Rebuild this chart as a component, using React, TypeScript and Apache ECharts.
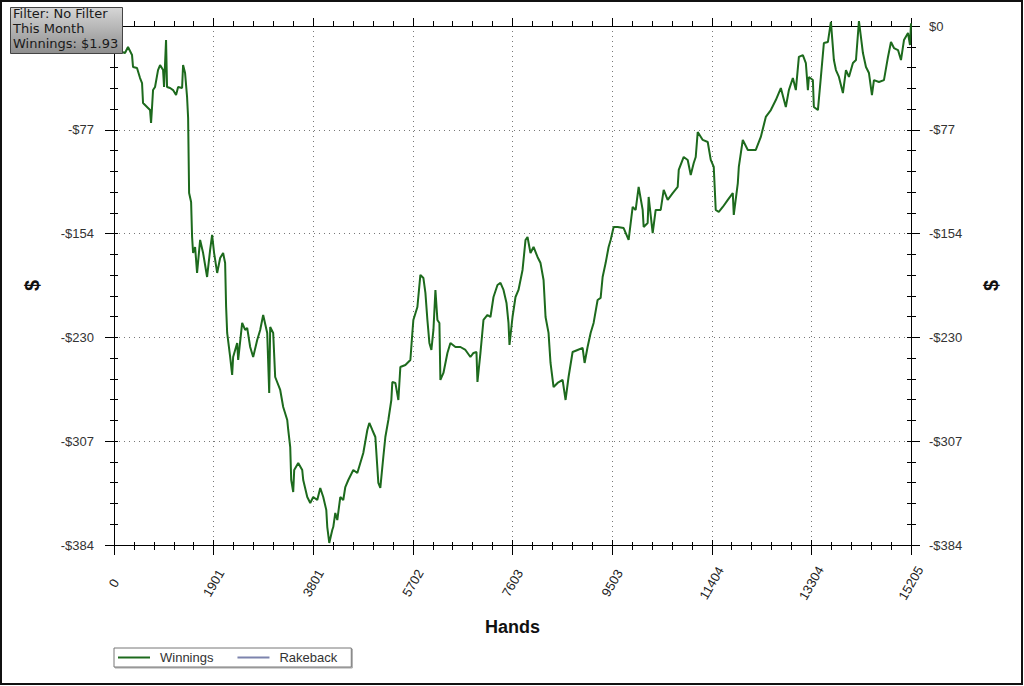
import React, { useEffect, useRef } from "react";
import * as echarts from "echarts";

const hands: number[] = [
  0, 76, 153, 210, 267, 344, 363, 439, 497, 535, 554, 630, 688, 707, 726, 745, 783, 840, 879, 936,
  955, 993, 1012, 1070, 1127, 1184, 1223, 1299, 1318, 1356, 1394, 1414, 1433, 1471, 1490, 1509, 1547, 1585, 1643, 1700,
  1776, 1834, 1872, 1910, 1968, 2025, 2082, 2120, 2139, 2159, 2216, 2254, 2273, 2350, 2369, 2445, 2502, 2541, 2598, 2655,
  2732, 2789, 2846, 2923, 2961, 2980, 3037, 3075, 3171, 3228, 3305, 3324, 3362, 3381, 3419, 3438, 3515, 3591, 3610, 3687,
  3744, 3801, 3878, 3935, 3992, 4050, 4069, 4107, 4164, 4183, 4222, 4260, 4317, 4374, 4413, 4470, 4565, 4642, 4699, 4756,
  4833, 4871, 4928, 4986, 5043, 5081, 5138, 5177, 5234, 5291, 5310, 5368, 5425, 5463, 5559, 5654, 5692, 5711, 5788, 5845,
  5903, 5941, 5979, 6017, 6055, 6094, 6132, 6170, 6208, 6227, 6285, 6361, 6418, 6514, 6609, 6705, 6800, 6858, 6915, 6934,
  6991, 7049, 7125, 7182, 7240, 7316, 7373, 7431, 7488, 7526, 7545, 7603, 7660, 7717, 7794, 7851, 7889, 7946, 8004, 8080,
  8137, 8195, 8233, 8290, 8328, 8386, 8462, 8558, 8615, 8672, 8749, 8844, 8940, 8978, 9035, 9093, 9150, 9226, 9284, 9322,
  9379, 9436, 9475, 9532, 9608, 9723, 9818, 9895, 9952, 10009, 10086, 10105, 10181, 10200, 10277, 10334, 10430, 10487, 10563, 10659,
  10754, 10774, 10869, 10945, 11003, 11060, 11098, 11136, 11232, 11327, 11385, 11442, 11480, 11538, 11614, 11710, 11805, 11824, 11901, 11920,
  11996, 12092, 12244, 12340, 12435, 12531, 12626, 12722, 12817, 12875, 12951, 13008, 13066, 13142, 13199, 13238, 13257, 13333, 13352, 13429,
  13486, 13543, 13620, 13677, 13734, 13773, 13830, 13906, 13964, 14021, 14097, 14155, 14212, 14288, 14346, 14403, 14460, 14498, 14594, 14689,
  14766, 14823, 14880, 14957, 15014, 15071, 15148, 15186, 15205,
];

const winnings: number[] = [
  0, -16.3, -19.2, -20.0, -15.5, -21.5, -30.3, -31.1, -38.5, -42.2, -57.0, -59.9, -62.2, -71.8, -59.9, -47.4, -45.1, -32.6, -28.9, -32.6,
  -45.1, -10.4, -45.1, -45.9, -47.4, -51.1, -45.1, -45.9, -28.9, -34.8, -52.5, -68.1, -123.6, -130.2, -156.1, -168.0, -163.5, -182.7, -158.3, -168.0,
  -185.7, -165.7, -154.6, -168.0, -182.7, -171.7, -168.0, -175.4, -207.9, -227.1, -244.9, -258.2, -244.9, -234.5, -247.1, -219.7, -224.9, -223.4, -237.5, -244.9,
  -232.3, -224.9, -213.8, -227.1, -271.5, -222.7, -227.1, -259.7, -269.3, -281.9, -291.5, -298.9, -311.5, -335.9, -344.8, -328.5, -323.3, -328.5, -335.9, -348.5,
  -352.9, -348.5, -350.7, -341.8, -348.5, -358.1, -370.7, -382.5, -372.9, -370.7, -360.3, -365.5, -348.5, -350.7, -341.1, -335.9, -328.5, -330.7, -323.3, -315.9,
  -298.9, -293.7, -298.9, -304.1, -338.1, -341.8, -318.9, -304.1, -291.5, -276.7, -263.4, -264.1, -276.7, -252.3, -250.8, -247.1, -227.1, -217.5, -207.9, -184.2,
  -186.5, -197.5, -217.5, -234.5, -239.7, -224.9, -195.3, -217.5, -219.7, -261.9, -256.7, -241.9, -234.5, -237.5, -237.5, -239.7, -244.9, -241.9, -241.2, -263.4,
  -241.9, -217.5, -213.8, -215.3, -200.5, -191.6, -190.1, -195.3, -204.9, -219.7, -236.0, -215.3, -200.5, -195.3, -180.5, -158.3, -156.1, -168.0, -163.5, -170.9,
  -175.4, -187.9, -215.3, -227.1, -249.3, -267.1, -264.1, -261.9, -276.7, -259.7, -241.2, -239.7, -238.2, -249.3, -237.5, -227.1, -219.7, -202.7, -201.2, -185.7,
  -175.4, -163.5, -158.3, -148.7, -148.7, -149.5, -158.3, -133.9, -136.1, -119.1, -136.1, -148.7, -145.8, -126.5, -153.2, -136.1, -136.1, -121.3, -128.7, -123.6,
  -119.1, -106.5, -96.9, -99.1, -110.2, -101.4, -96.9, -78.4, -84.3, -85.8, -99.1, -104.3, -136.1, -137.6, -133.9, -128.7, -123.6, -139.8, -116.2, -104.3,
  -84.3, -91.7, -91.7, -82.1, -67.3, -62.2, -54.8, -45.9, -59.9, -47.4, -38.5, -47.4, -22.9, -21.5, -27.4, -47.4, -37.7, -40.0, -59.9, -62.2,
  -37.7, -12.6, -11.8, 3.0, -25.2, -32.6, -37.7, -49.6, -32.6, -37.7, -27.4, -25.2, 3.7, -20.0, -30.3, -34.8, -51.1, -40.0, -41.4, -40.0,
  -22.9, -11.8, -16.3, -17.8, -25.2, -10.4, -5.2, -14.1, 1.93,
];

const rakeback: number[][] = [];

const seriesNames = ["Winnings", "Rakeback"];
const filterLines = ["Filter: No Filter", "This Month", "Winnings: $1.93"];

const HAND_MAX = 15205;
const Y_MIN = -384;

const fmtMoney = (v: number) => {
  const r = Math.round(v);
  return r === 0 ? "$0" : r < 0 ? "-$" + -r : "$" + r;
};
// left-hand $0 label sits under the filter box in the reference
const fmtMoneyLeft = (v: number) => (Math.round(v) === 0 ? "" : fmtMoney(v));

const FONT = "'Liberation Sans', Arial, sans-serif";

export default function App() {
  const ref = useRef<HTMLDivElement>(null);
  useEffect(() => {
    if (!ref.current) return;
    const chart = echarts.init(ref.current, null, { renderer: "svg" });
    const data = hands.map((h, i) => [h, winnings[i]]);
    const lineBlack = { color: "#000", width: 1 };
    const gridRect = { left: 114, right: 113, top: 26, bottom: 141 };

    const innerY = (position: string) => ({
      type: "value",
      gridIndex: 1,
      position,
      min: Y_MIN,
      max: 0,
      interval: 76.8,
      axisLine: { show: false, onZero: false },
      axisTick: { show: true, inside: true, length: 4, lineStyle: lineBlack },
      minorTick: { show: true, splitNumber: 5, length: 4, lineStyle: lineBlack },
      axisLabel: { show: false },
      splitLine: { show: false },
    });

    const option: any = {
      animation: false,
      backgroundColor: "#fff",
      grid: [
        { ...gridRect, containLabel: false },
        { ...gridRect, containLabel: false },
      ],
      xAxis: [
        {
          type: "value",
          gridIndex: 0,
          position: "bottom",
          min: 0,
          max: HAND_MAX,
          interval: HAND_MAX / 8,
          axisLine: { show: true, onZero: false, lineStyle: lineBlack },
          axisTick: { show: true, length: 10, lineStyle: lineBlack },
          minorTick: { show: true, splitNumber: 5, length: 5, lineStyle: lineBlack },
          axisLabel: {
            rotate: 60,
            align: "center",
            verticalAlign: "middle",
            margin: 38,
            fontSize: 13,
            fontFamily: FONT,
            color: "#222",
            formatter: (v: number) => String(Math.round(v)),
          },
          splitLine: { show: true, lineStyle: { color: "#777", type: [1, 4], width: 1 } },
          name: "Hands",
          nameLocation: "middle",
          nameGap: 73,
          nameTextStyle: { fontSize: 18, fontWeight: "bold", fontFamily: FONT, color: "#111" },
        },
        {
          type: "value",
          gridIndex: 0,
          position: "top",
          min: 0,
          max: HAND_MAX,
          interval: HAND_MAX / 8,
          axisLine: { show: true, onZero: false, lineStyle: lineBlack },
          axisTick: { show: true, length: 8, lineStyle: lineBlack },
          minorTick: { show: true, splitNumber: 5, length: 5, lineStyle: lineBlack },
          axisLabel: { show: false },
          splitLine: { show: false },
        },
        {
          type: "value",
          gridIndex: 1,
          position: "bottom",
          min: 0,
          max: HAND_MAX,
          interval: HAND_MAX / 8,
          axisLine: { show: false, onZero: false },
          axisTick: { show: true, inside: true, length: 5, lineStyle: lineBlack },
          minorTick: { show: true, splitNumber: 5, length: 3, lineStyle: lineBlack },
          axisLabel: { show: false },
          splitLine: { show: false },
        },
      ],
      yAxis: [
        {
          type: "value",
          gridIndex: 0,
          position: "left",
          min: Y_MIN,
          max: 0,
          interval: 76.8,
          axisLine: { show: true, onZero: false, lineStyle: lineBlack },
          axisTick: { show: true, length: 9, lineStyle: lineBlack },
          minorTick: { show: true, splitNumber: 5, length: 4, lineStyle: lineBlack },
          axisLabel: { margin: 20, fontSize: 13, fontFamily: FONT, color: "#333", formatter: fmtMoneyLeft },
          splitLine: { show: true, lineStyle: { color: "#777", type: [1, 4], width: 1 } },
          name: "$",
          nameLocation: "middle",
          nameRotate: 90,
          nameGap: 72,
          nameTextStyle: { fontSize: 20, fontWeight: "bold", fontFamily: FONT, color: "#111" },
        },
        {
          type: "value",
          gridIndex: 0,
          position: "right",
          min: Y_MIN,
          max: 0,
          interval: 76.8,
          axisLine: { show: true, onZero: false, lineStyle: lineBlack },
          axisTick: { show: true, length: 9, lineStyle: lineBlack },
          minorTick: { show: true, splitNumber: 5, length: 5, lineStyle: lineBlack },
          axisLabel: { margin: 18, fontSize: 13, fontFamily: FONT, color: "#333", formatter: fmtMoney },
          splitLine: { show: false },
          name: "$",
          nameLocation: "middle",
          nameRotate: 90,
          nameGap: 70,
          nameTextStyle: { fontSize: 20, fontWeight: "bold", fontFamily: FONT, color: "#111" },
        },
        innerY("left"),
        innerY("right"),
      ],
      legend: {
        left: 114,
        top: 648,
        orient: "horizontal",
        padding: [3, 14, 3, 4],
        itemGap: 24,
        itemWidth: 32,
        itemHeight: 2,
        borderColor: "#777",
        borderWidth: 1,
        shadowColor: "rgba(0,0,0,0.35)",
        shadowOffsetX: 1,
        shadowOffsetY: 1,
        shadowBlur: 0,
        backgroundColor: "#fff",
        textStyle: { fontSize: 13, fontFamily: FONT, color: "#333", padding: [0, 0, 0, 5] },
        data: seriesNames.map((n) => ({ name: n, icon: "rect" })),
      },
      series: [
        {
          name: seriesNames[0],
          type: "line",
          xAxisIndex: 0,
          yAxisIndex: 0,
          data,
          symbol: "none",
          clip: false,
          color: "#1d6a1d",
          lineStyle: { color: "#1d6a1d", width: 2 },
          z: 5,
        },
        {
          name: seriesNames[1],
          type: "line",
          xAxisIndex: 0,
          yAxisIndex: 0,
          data: rakeback,
          symbol: "none",
          color: "#7d84ad",
          lineStyle: { color: "#7d84ad", width: 1 },
        },
      ],
      graphic: [
        {
          type: "rect",
          z: 100,
          silent: true,
          shape: { x: 1, y: 1, width: 1021, height: 683 },
          style: { fill: "none", stroke: "#111", lineWidth: 2 },
        },
        {
          type: "rect",
          z: 100,
          shape: { x: 10.5, y: 7.5, width: 112, height: 46 },
          style: {
            fill: new echarts.graphic.LinearGradient(0, 0, 0, 1, [
              { offset: 0, color: "#d6d6d6" },
              { offset: 1, color: "#8e8e8e" },
            ]),
            stroke: "#444",
            lineWidth: 1,
          },
        },
        ...filterLines.map((t, i) => ({
          type: "text",
          z: 101,
          x: 13,
          y: 7 + i * 15,
          style: {
            text: t,
            fill: "#1a1a1a",
            font: "13px 'DejaVu Sans', sans-serif",
            textVerticalAlign: "top",
          },
        })),
      ],
    };
    chart.setOption(option);
    return () => chart.dispose();
  }, []);
  return (
    <div
      ref={ref}
      style={{ position: "absolute", left: 0, top: 0, width: 1024, height: 686 }}
    />
  );
}
